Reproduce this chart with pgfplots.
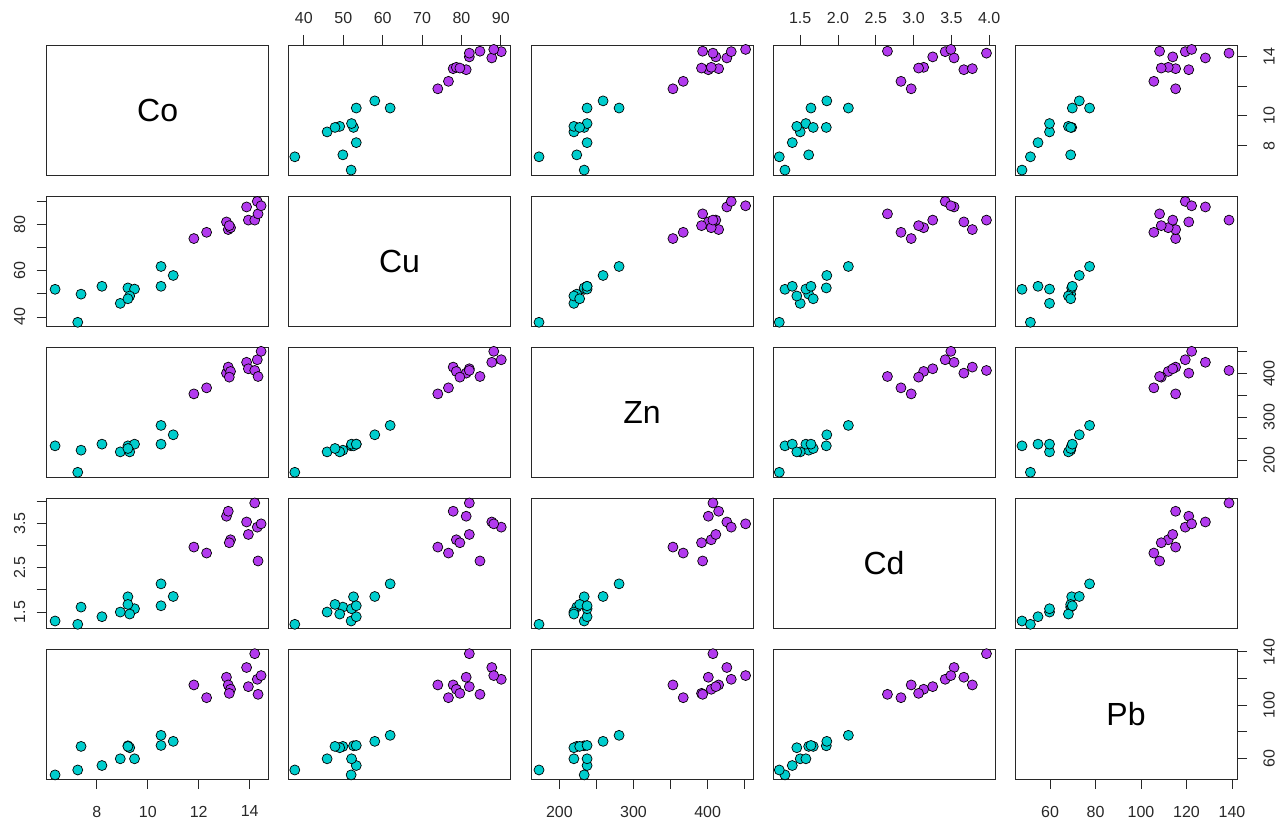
\documentclass[border=0pt]{standalone}
\usepackage{fontspec}
\setmainfont{Liberation Sans}
\usepackage{pgfplots}
\usepackage{pgfplotstable}
\pgfplotsset{compat=1.18}
\definecolor{cyanc}{RGB}{0,205,205}
\definecolor{purpc}{RGB}{178,58,238}
\definecolor{frame}{RGB}{40,40,40}

\pgfplotstableread{
Co Cu Zn Cd Pb
6.36 52.0 233.4 1.298 47.67
7.25 37.7 172.4 1.223 51.37
7.38 49.9 223.4 1.612 69.07
8.20 53.3 237.3 1.395 54.71
8.92 45.9 219.5 1.500 59.77
9.22 52.6 233.4 1.845 69.52
9.48 52.1 237.3 1.575 59.77
9.29 49.1 219.5 1.455 68.08
9.22 47.9 227.3 1.672 69.07
10.52 61.9 280.5 2.137 77.38
10.52 53.3 237.3 1.642 69.79
11.00 58.0 258.9 1.852 72.86
}\cyandata

\pgfplotstableread{
Co Cu Zn Cd Pb
11.81 74.0 353.2 2.968 115.21
12.31 76.7 367.1 2.833 105.64
13.09 81.2 401.0 3.665 120.99
13.16 77.9 414.9 3.777 115.21
13.25 78.7 404.9 3.133 111.96
13.20 79.6 391.8 3.066 108.89
13.88 87.7 426.0 3.535 128.30
13.95 82.0 411.1 3.253 113.94
14.20 82.0 407.2 3.964 138.68
14.30 90.1 431.9 3.418 119.45
14.33 84.7 393.3 2.654 108.16
14.45 88.2 451.3 3.493 122.25
}\purpdata

\pgfplotsset{
  base/.style={scale only axis, width=222pt, height=130pt, anchor=south west,
    axis line style={line width=0.9pt, frame}, xtick=\empty, ytick=\empty,
    tick align=outside, major tick length=10pt,
    every tick/.style={line width=0.9pt, frame},
    ticklabel style={font=\fontsize{16}{16}\selectfont, text=frame},
    clip=false},
  xCo/.style={xmin=6.031,xmax=14.748}, yCo/.style={ymin=6.031,ymax=14.748},
  xCu/.style={xmin=36.1,xmax=92.45},   yCu/.style={ymin=36.1,ymax=92.45},
  xZn/.style={xmin=161.6,xmax=461.3},  yZn/.style={ymin=161.6,ymax=461.3},
  xCd/.style={xmin=1.14,xmax=4.077},   yCd/.style={ymin=1.14,ymax=4.077},
  xPb/.style={xmin=44.6,xmax=142.2},   yPb/.style={ymin=44.6,ymax=142.2},
  cpt/.style={only marks, mark=*, mark size=5pt, mark options={fill=cyanc, draw=black, line width=0.7pt}},
  ppt/.style={only marks, mark=*, mark size=5pt, mark options={fill=purpc, draw=black, line width=0.7pt}},
  bottomlab/.style={xtick pos=left, xticklabel pos=left, xticklabel style={anchor=north, inner sep=0pt}, xticklabel shift=16.7pt},
  toplab/.style={xtick pos=right, xticklabel pos=right, xticklabel style={anchor=south, inner sep=0pt}, xticklabel shift=11.3pt},
  leftlab/.style={ytick pos=left, yticklabel pos=left, yticklabel style={rotate=90, anchor=south, inner sep=0pt}, yticklabel shift=11.3pt},
  rightlab/.style={ytick pos=right, yticklabel pos=right, yticklabel style={rotate=90, anchor=north, inner sep=0pt}, yticklabel shift=16.3pt},
}

% #1 x, #2 y (pt), #3 x var, #4 y var, #5 options
\newcommand{\panel}[5]{%
  \begin{axis}[base, at={(#1pt,#2pt)}, x#3, y#4, #5]
    \addplot[cpt] table[x=#3, y=#4] {\cyandata};
    \addplot[ppt] table[x=#3, y=#4] {\purpdata};
  \end{axis}}
\newcommand{\diag}[4]{%
  \begin{axis}[base, at={(#1pt,#2pt)}, x#3, y#3, #4]
    \node at (rel axis cs:0.5,0.5) {\fontsize{32}{32}\selectfont #3};
  \end{axis}}

\begin{document}
\begin{tikzpicture}
\useasboundingbox (0pt,0pt) rectangle (1282pt,818pt);
% row 1 : Co
\diag{46.7}{643}{Co}{}
\panel{288.5}{643}{Cu}{Co}{toplab, xtick={40,50,60,70,80,90}, xticklabels={40,50,60,70,80,90}}
\panel{531}{643}{Zn}{Co}{}
\panel{773}{643}{Cd}{Co}{toplab, xtick={1.5,2,2.5,3,3.5,4}, xticklabels={1.5,2.0,2.5,3.0,3.5,4.0}}
\panel{1015}{643}{Pb}{Co}{rightlab, ytick={8,10,12,14}, yticklabels={8,10,,14}}
% row 2 : Cu
\panel{46.7}{492}{Co}{Cu}{leftlab, ytick={40,50,60,70,80,90}, yticklabels={40,,60,,80,}}
\diag{288.5}{492}{Cu}{}
\panel{531}{492}{Zn}{Cu}{}
\panel{773}{492}{Cd}{Cu}{}
\panel{1015}{492}{Pb}{Cu}{}
% row 3 : Zn
\panel{46.7}{341}{Co}{Zn}{}
\panel{288.5}{341}{Cu}{Zn}{}
\diag{531}{341}{Zn}{}
\panel{773}{341}{Cd}{Zn}{}
\panel{1015}{341}{Pb}{Zn}{rightlab, ytick={200,250,300,350,400,450}, yticklabels={200,,300,,400,}}
% row 4 : Cd
\panel{46.7}{190}{Co}{Cd}{leftlab, ytick={1.5,2,2.5,3,3.5,4}, yticklabels={1.5,,2.5,,3.5,}}
\panel{288.5}{190}{Cu}{Cd}{}
\panel{531}{190}{Zn}{Cd}{}
\diag{773}{190}{Cd}{}
\panel{1015}{190}{Pb}{Cd}{}
% row 5 : Pb
\panel{46.7}{39}{Co}{Pb}{bottomlab, xtick={8,10,12,14}, xticklabels={8,10,12,14}}
\panel{288.5}{39}{Cu}{Pb}{}
\panel{531}{39}{Zn}{Pb}{bottomlab, xtick={200,250,300,350,400,450}, xticklabels={200,,300,,400,}}
\panel{773}{39}{Cd}{Pb}{}
\diag{1015}{39}{Pb}{bottomlab, xtick={60,80,100,120,140}, xticklabels={60,80,100,120,140}, rightlab, ytick={60,80,100,120,140}, yticklabels={60,,100,,140}}
\end{tikzpicture}
\end{document}
